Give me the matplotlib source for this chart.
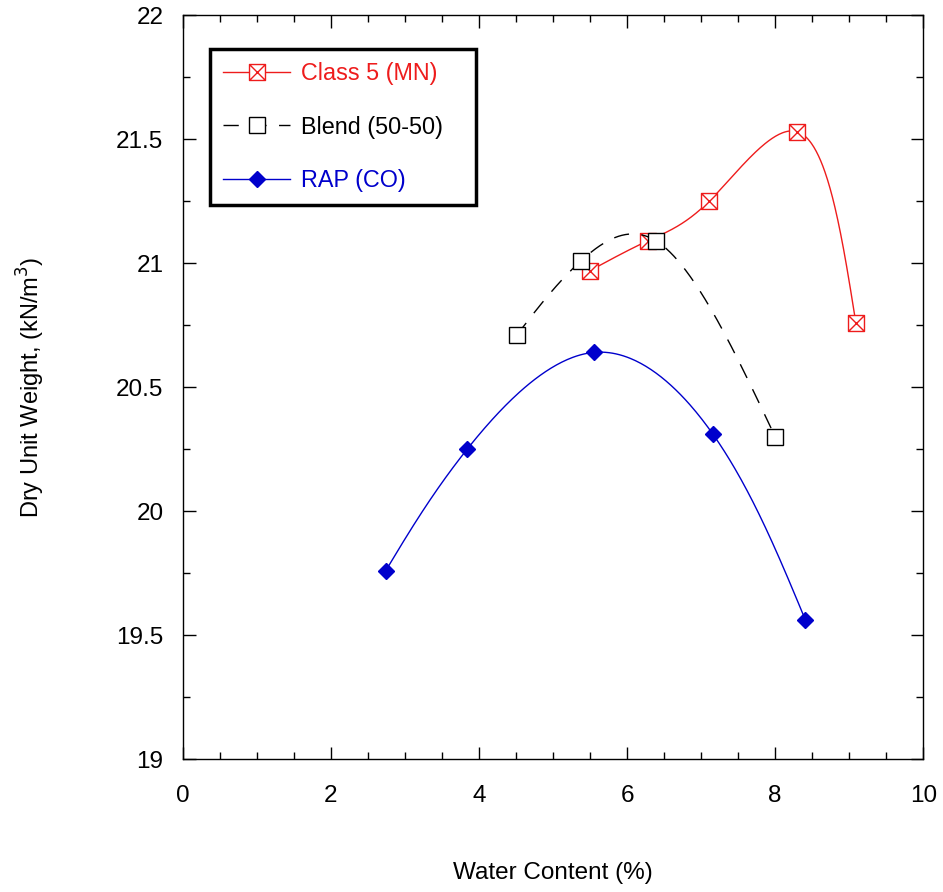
"""
Compaction curves: dry unit weight vs water content
"""
import numpy as np
import matplotlib
matplotlib.use("Agg")
import matplotlib.pyplot as plt
from matplotlib.path import Path
from matplotlib.ticker import MultipleLocator

plt.rcParams['font.family'] = ['Liberation Sans', 'DejaVu Sans']

# values
class5_w = [5.50, 6.28, 7.11, 8.30, 9.09]
class5_g = [20.97, 21.09, 21.25, 21.53, 20.76]

blend_w = [4.51, 5.38, 6.39, 8.00]
blend_g = [20.71, 21.01, 21.09, 20.30]

rap_w = [2.74, 3.84, 5.55, 7.16, 8.41]
rap_g = [19.76, 20.25, 20.64, 20.31, 19.56]

labels = ["Class 5 (MN)", "Blend (50-50)", "RAP (CO)"]
colors = ["#ee1c1c", "black", "#0000cc"]


def nat_spline(t, v, ts):
    """natural cubic spline of v(t), evaluated at ts"""
    k = len(t)
    h = np.diff(t)
    A = np.zeros((k, k))
    b = np.zeros(k)
    A[0, 0] = A[-1, -1] = 1.0
    for i in range(1, k - 1):
        A[i, i - 1] = h[i - 1]
        A[i, i] = 2 * (h[i - 1] + h[i])
        A[i, i + 1] = h[i]
        b[i] = 3 * ((v[i + 1] - v[i]) / h[i] - (v[i] - v[i - 1]) / h[i - 1])
    c = np.linalg.solve(A, b)
    idx = np.clip(np.searchsorted(t, ts) - 1, 0, k - 2)
    dt = ts - t[idx]
    hi = h[idx]
    bb = (v[idx + 1] - v[idx]) / hi - hi * (2 * c[idx] + c[idx + 1]) / 3
    dd = (c[idx + 1] - c[idx]) / (3 * hi)
    return v[idx] + bb * dt + c[idx] * dt ** 2 + dd * dt ** 3


def smooth_curve(x, y, sx=74.0, sy=248.0, alpha=0.3, n=300):
    """parametric spline (screen-like units), only for the drawn line"""
    x = np.asarray(x, float) * sx
    y = np.asarray(y, float) * sy
    d = np.hypot(np.diff(x), np.diff(y)) ** alpha
    t = np.concatenate([[0], np.cumsum(d)])
    ts = np.linspace(0, t[-1], n)
    return nat_spline(t, x, ts) / sx, nat_spline(t, y, ts) / sy


# square with both diagonals
box_x = Path([(-1, -1), (1, -1), (1, 1), (-1, 1), (-1, -1), (-1, -1), (1, 1), (-1, 1), (1, -1)],
             [Path.MOVETO, Path.LINETO, Path.LINETO, Path.LINETO, Path.CLOSEPOLY,
              Path.MOVETO, Path.LINETO, Path.MOVETO, Path.LINETO])

fig = plt.figure(figsize=(9.43, 8.92), dpi=100)
ax = fig.add_axes([0.194, 0.149, 0.785, 0.834])

xs, ys = smooth_curve(class5_w, class5_g)
ax.plot(xs, ys, color=colors[0], lw=1.0)
ax.plot(class5_w, class5_g, linestyle='none', marker=box_x, ms=11.5, mfc='white',
        mec=colors[0], mew=1.0)
h1, = ax.plot([], [], color=colors[0], lw=1.0, marker=box_x, ms=11.5, mfc='white',
              mec=colors[0], mew=1.0)

xs, ys = smooth_curve(blend_w, blend_g)
ax.plot(xs, ys, color=colors[1], lw=1.0, dashes=(11, 9))
ax.plot(blend_w, blend_g, linestyle='none', marker='s', ms=11.5, mfc='white',
        mec=colors[1], mew=1.0)
h2, = ax.plot([], [], color=colors[1], lw=1.0, dashes=(11, 9), marker='s', ms=11.5,
              mfc='white', mec=colors[1], mew=1.0)

xs, ys = smooth_curve(rap_w, rap_g)
ax.plot(xs, ys, color=colors[2], lw=1.0)
ax.plot(rap_w, rap_g, linestyle='none', marker='D', ms=8.2, mfc=colors[2],
        mec=colors[2])
h3, = ax.plot([], [], color=colors[2], lw=1.0, marker='D', ms=8.2, mfc=colors[2],
              mec=colors[2])

ax.set_xlim(0, 10)
ax.set_ylim(19, 22)
ax.xaxis.set_major_locator(MultipleLocator(2))
ax.xaxis.set_minor_locator(MultipleLocator(0.5))
ax.yaxis.set_minor_locator(MultipleLocator(0.25))
ax.set_yticks(np.arange(19, 22.01, 0.5))
ax.set_yticklabels(["19", "19.5", "20", "20.5", "21", "21.5", "22"])
ax.tick_params(which='both', direction='in', top=True, right=True, width=1.0)
ax.tick_params(which='major', length=9, labelsize=17.5)
ax.tick_params(which='minor', length=5)
ax.tick_params(axis='x', which='major', pad=18.5)
ax.tick_params(axis='y', which='major', pad=14)
for s in ax.spines.values():
    s.set_linewidth(1.0)

ax.set_xlabel("Water Content (%)", fontsize=17.5, labelpad=40)
ax.set_ylabel("Dry Unit Weight, (kN/m$^3$)", fontsize=17, labelpad=50)

# legend box: left 210 px, top 49 px, width 266 px, height 154 px
leg = ax.legend([h1, h2, h3], labels, loc='upper left',
                bbox_to_anchor=(0.0365, 0.747, 0.359, 0.207), mode='expand',
                borderaxespad=0, fancybox=False, framealpha=1, edgecolor='black',
                fontsize=16.8, handlelength=2.9, handletextpad=0.45, labelspacing=1.3,
                borderpad=0.55)
leg.get_frame().set_linewidth(2.5)
for t, c in zip(leg.get_texts(), colors):
    t.set_color(c)

fig.savefig("out.png", dpi=100)
